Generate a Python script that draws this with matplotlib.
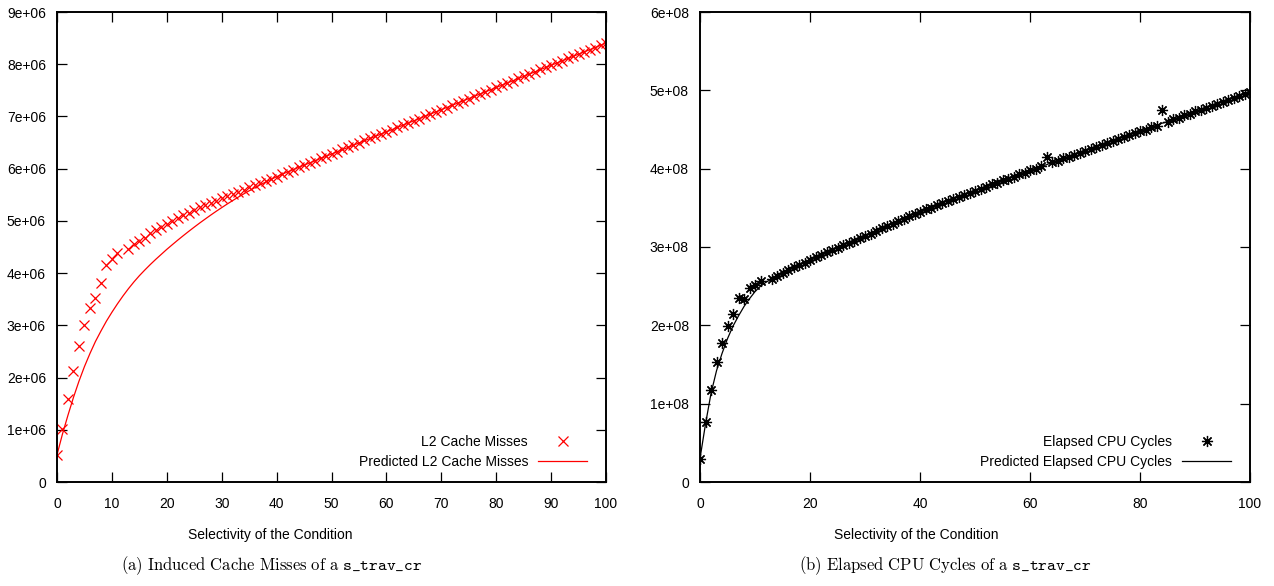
import matplotlib
matplotlib.use("Agg")
import matplotlib.pyplot as plt
from matplotlib.ticker import FixedLocator, FuncFormatter

plt.rcParams["font.family"] = ["Liberation Sans", "DejaVu Sans"]
plt.rcParams["mathtext.fontset"] = "cm"

# selectivity (percent); the run at 12 is absent from both measurements
sel = [0, 1, 2, 3, 4, 5, 6, 7, 8, 9, 10, 11] + list(range(13, 101))
sel_pred = list(range(0, 101))

# (a) L2 cache misses, in millions
l2_misses = [
    0.52, 1.01, 1.59, 2.13, 2.61, 3.00, 3.34, 3.53, 3.82, 4.15, 4.27, 4.38,
    4.47, 4.55, 4.61, 4.68, 4.76, 4.82, 4.89, 4.95, 5.00, 5.06, 5.11, 5.16,
    5.21, 5.26, 5.30, 5.35, 5.38, 5.43, 5.47, 5.51, 5.56, 5.60, 5.64, 5.68,
    5.73, 5.77, 5.81, 5.85, 5.90, 5.94, 5.98, 6.03, 6.07, 6.11, 6.15, 6.20,
    6.24, 6.28, 6.32, 6.37, 6.41, 6.45, 6.49, 6.54, 6.58, 6.62, 6.66, 6.71,
    6.75, 6.79, 6.83, 6.88, 6.92, 6.96, 7.00, 7.05, 7.09, 7.13, 7.17, 7.22,
    7.26, 7.30, 7.34, 7.39, 7.43, 7.47, 7.51, 7.56, 7.60, 7.64, 7.68, 7.73,
    7.77, 7.81, 7.85, 7.90, 7.94, 7.98, 8.02, 8.07, 8.11, 8.15, 8.19, 8.24,
    8.28, 8.32, 8.36, 8.41,
]
l2_pred = [
    0.52, 0.92, 1.28, 1.62, 1.93, 2.21, 2.46, 2.69, 2.89, 3.08, 3.25, 3.41,
    3.56, 3.70, 3.83, 3.95, 4.06, 4.165, 4.265, 4.36, 4.455, 4.544, 4.632,
    4.717, 4.800, 4.881, 4.960, 5.036, 5.111, 5.184, 5.254, 5.323, 5.389,
    5.454, 5.516, 5.576, 5.634, 5.690, 5.744, 5.796, 5.846, 5.893, 5.939,
    5.982, 6.025, 6.067, 6.11, 6.152, 6.195, 6.237, 6.28, 6.322, 6.365,
    6.407, 6.45, 6.492, 6.535, 6.577, 6.62, 6.662, 6.705, 6.747, 6.79,
    6.832, 6.875, 6.917, 6.96, 7.002, 7.045, 7.087, 7.13, 7.172, 7.215,
    7.257, 7.30, 7.342, 7.385, 7.427, 7.47, 7.512, 7.555, 7.597, 7.64,
    7.682, 7.725, 7.767, 7.81, 7.852, 7.895, 7.937, 7.98, 8.022, 8.065,
    8.107, 8.15, 8.192, 8.235, 8.277, 8.32, 8.362, 8.405,
]

# (b) elapsed CPU cycles, in units of 1e8
cycles = [
    0.30, 0.76, 1.18, 1.53, 1.78, 1.99, 2.14, 2.35, 2.34, 2.48, 2.52, 2.56,
    2.59, 2.63, 2.67, 2.71, 2.74, 2.77, 2.80, 2.84, 2.87, 2.90, 2.93, 2.96,
    2.99, 3.02, 3.05, 3.08, 3.11, 3.14, 3.17, 3.20, 3.24, 3.27, 3.30, 3.33,
    3.36, 3.39, 3.42, 3.45, 3.48, 3.50, 3.53, 3.56, 3.59, 3.61, 3.64, 3.67,
    3.69, 3.72, 3.74, 3.77, 3.80, 3.82, 3.85, 3.87, 3.90, 3.93, 3.95, 3.98,
    4.00, 4.03, 4.15, 4.08, 4.10, 4.13, 4.15, 4.18, 4.20, 4.23, 4.25, 4.28,
    4.30, 4.33, 4.35, 4.38, 4.40, 4.43, 4.45, 4.48, 4.50, 4.53, 4.55, 4.75,
    4.60, 4.63, 4.65, 4.68, 4.70, 4.73, 4.75, 4.78, 4.80, 4.83, 4.85, 4.88,
    4.90, 4.93, 4.95, 4.98,
]
cycles_pred = [
    0.30, 0.74, 1.13, 1.42, 1.64, 1.83, 1.99, 2.12, 2.24, 2.34, 2.43, 2.50,
    2.55, 2.59, 2.63, 2.67, 2.71, 2.74, 2.77, 2.80, 2.84, 2.87, 2.90, 2.93,
    2.96, 2.99, 3.02, 3.05, 3.08, 3.11, 3.14, 3.17, 3.20, 3.24, 3.27, 3.30,
    3.33, 3.36, 3.39, 3.42, 3.45, 3.48, 3.50, 3.53, 3.56, 3.59, 3.61, 3.64,
    3.67, 3.69, 3.72, 3.74, 3.77, 3.80, 3.82, 3.85, 3.87, 3.90, 3.93, 3.95,
    3.98, 4.00, 4.03, 4.05, 4.08, 4.10, 4.13, 4.15, 4.18, 4.20, 4.23, 4.25,
    4.28, 4.30, 4.33, 4.35, 4.38, 4.40, 4.43, 4.45, 4.48, 4.50, 4.53, 4.55,
    4.58, 4.60, 4.63, 4.65, 4.68, 4.70, 4.73, 4.75, 4.78, 4.80, 4.83, 4.85,
    4.88, 4.90, 4.93, 4.95, 4.98,
]


def sci(v, pos):
    if v == 0:
        return "0"
    m, e = f"{v:.0e}".split("e")
    return f"{m}e{int(e):+03d}"


def style_axes(ax, xticks, yticks):
    ax.set_xlim(0, 100)
    ax.set_ylim(yticks[0], yticks[-1])
    ax.xaxis.set_major_locator(FixedLocator(xticks))
    ax.yaxis.set_major_locator(FixedLocator(yticks))
    ax.yaxis.set_major_formatter(FuncFormatter(sci))
    ax.tick_params(direction="in", length=7, width=0.9, top=True, right=True,
                   labelsize=10, colors="black")
    ax.tick_params(axis="x", pad=11)
    ax.tick_params(axis="y", pad=8)
    for sp in ax.spines.values():
        sp.set_linewidth(1.4)


fig = plt.figure(figsize=(12.74, 5.86), dpi=100)
W, H = 1274, 586
ax1 = fig.add_axes([57 / W, (H - 482) / H, 549 / W, 470 / H])
ax2 = fig.add_axes([700 / W, (H - 482) / H, 550 / W, 470 / H])

ax1.plot(sel, [v * 1e6 for v in l2_misses], linestyle="none", marker="x",
         color="#ff0000", markersize=7.5, markeredgewidth=0.9,
         label="L2 Cache Misses")
ax1.plot(sel_pred, [v * 1e6 for v in l2_pred], color="#ff0000", linewidth=0.9,
         label="Predicted L2 Cache Misses")
style_axes(ax1, list(range(0, 101, 10)), [i * 1e6 for i in range(10)])

ax2.plot(sel, [v * 1e8 for v in cycles], linestyle="none", marker=(8, 2, 0),
         color="black", markersize=8, markeredgewidth=0.9,
         label="Elapsed CPU Cycles")
ax2.plot(sel_pred, [v * 1e8 for v in cycles_pred], color="black", linewidth=0.9,
         label="Predicted Elapsed CPU Cycles")
style_axes(ax2, list(range(0, 101, 20)), [i * 1e8 for i in range(7)])

for ax in (ax1, ax2):
    ax.legend(loc="lower right", bbox_to_anchor=(0.9655, 0.028),
              frameon=False, markerfirst=False, fontsize=10,
              handlelength=3.5, handletextpad=0.75, labelspacing=0.45,
              borderpad=0, borderaxespad=0)

fig.text(270 / W, 1 - 535 / H, "Selectivity of the Condition",
         ha="center", va="center", fontsize=10)
fig.text(916 / W, 1 - 535 / H, "Selectivity of the Condition",
         ha="center", va="center", fontsize=10)

fig.text(272 / W, 1 - 566 / H,
         r"$\mathrm{(a)\ Induced\ Cache\ Misses\ of\ a\ }\mathtt{s\_trav\_cr}$",
         ha="center", va="center", fontsize=12)
fig.text(945 / W, 1 - 566 / H,
         r"$\mathrm{(b)\ Elapsed\ CPU\ Cycles\ of\ a\ }\mathtt{s\_trav\_cr}$",
         ha="center", va="center", fontsize=12)

fig.savefig("out.png", dpi=100)
